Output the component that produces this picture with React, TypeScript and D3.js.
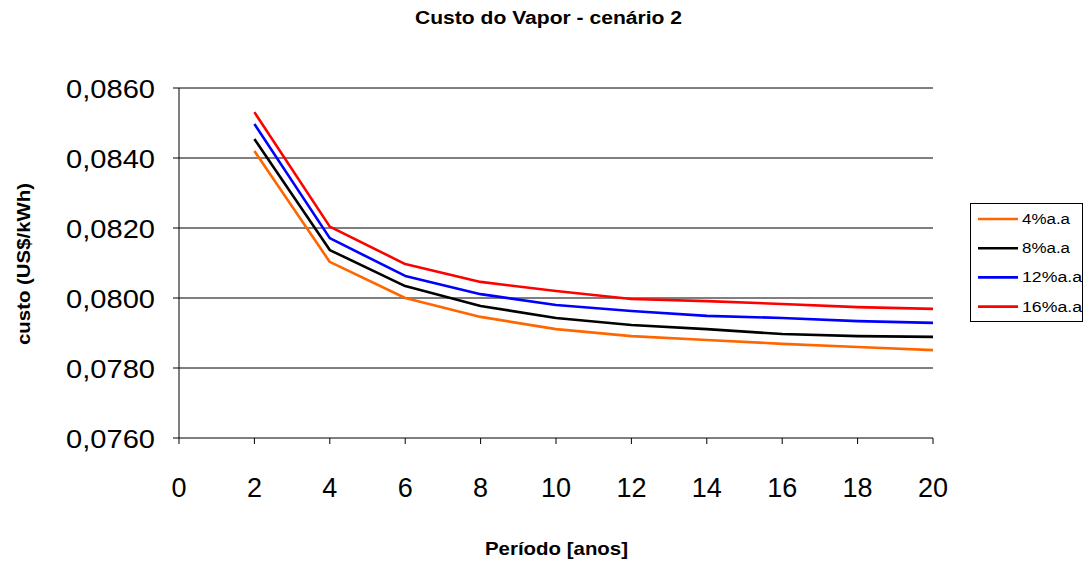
import React from "react";
import * as d3 from "d3";

const periods = [2, 4, 6, 8, 10, 12, 14, 16, 18, 20];
const s4 = [0.0842, 0.08103, 0.0800, 0.07946, 0.07911, 0.07891, 0.0788, 0.07869, 0.0786, 0.07851];
const s8 = [0.08454, 0.08137, 0.08034, 0.07977, 0.07943, 0.07923, 0.07911, 0.07897, 0.07891, 0.07889];
const s12 = [0.08497, 0.08171, 0.08063, 0.08011, 0.0798, 0.07963, 0.07949, 0.07943, 0.07934, 0.07929];
const s16 = [0.08531, 0.08204, 0.08097, 0.08046, 0.0802, 0.07997, 0.07991, 0.07983, 0.07974, 0.07969];
const seriesNames = ["4%a.a", "8%a.a", "12%a.a", "16%a.a"];
const seriesColors = ["#FF6600", "#000000", "#0000FF", "#FF0000"];
const xTicks = [0, 2, 4, 6, 8, 10, 12, 14, 16, 18, 20];
const yTicks = [0.076, 0.078, 0.08, 0.082, 0.084, 0.086];

export default function App() {
  const W = 1089, H = 562;
  const left = 179, right = 933, top = 88, bottom = 438;
  const x = d3.scaleLinear().domain([0, 20]).range([left, right]);
  const y = d3.scaleLinear().domain([0.076, 0.086]).range([bottom, top]);
  const all = [s4, s8, s12, s16];
  const line = d3.line<number>().x((_, i) => x(periods[i])).y((d) => y(d));
  const fmt = (v: number) => v.toFixed(4).replace(".", ",");
  const font = "Liberation Sans, Arial, sans-serif";
  const legStep = 29.2;
  return (
    <svg width={W} height={H} style={{ position: "absolute", left: 0, top: 0, background: "#fff" }} fontFamily={font}>
      <text x={548.5} y={24} textAnchor="middle" fontSize={18} fontWeight="bold" textLength={267} lengthAdjust="spacingAndGlyphs">Custo do Vapor - cenário 2</text>
      {yTicks.map((t) => (
        <g key={t}>
          {t > 0.076 && <line x1={left} x2={right} y1={y(t)} y2={y(t)} stroke="#000" strokeWidth={1} />}
          <line x1={left - 6} x2={left} y1={y(t)} y2={y(t)} stroke="#000" />
          <text x={155} y={y(t) + 10} textAnchor="end" fontSize={26} textLength={89} lengthAdjust="spacingAndGlyphs">{fmt(t)}</text>
        </g>
      ))}
      <line x1={left} x2={left} y1={top} y2={bottom} stroke="#000" />
      <line x1={left} x2={right} y1={bottom} y2={bottom} stroke="#000" />
      {xTicks.map((t) => (
        <g key={t}>
          <line x1={x(t)} x2={x(t)} y1={bottom} y2={bottom + 6} stroke="#000" />
          <text x={x(t)} y={497} textAnchor="middle" fontSize={27}>{t}</text>
        </g>
      ))}
      {all.map((s, i) => (
        <path key={i} d={line(s) || ""} fill="none" stroke={seriesColors[i]} strokeWidth={2.6} strokeLinejoin="round" />
      ))}
      <text x={556.5} y={555} textAnchor="middle" fontSize={19} fontWeight="bold" textLength={143} lengthAdjust="spacingAndGlyphs">Período [anos]</text>
      <text transform="translate(30,264) rotate(-90)" textAnchor="middle" fontSize={19} fontWeight="bold" textLength={162} lengthAdjust="spacingAndGlyphs">custo (US$/kWh)</text>
      <rect x={970.5} y={203.5} width={112} height={118} fill="#fff" stroke="#000" />
      {seriesNames.map((n, i) => (
        <g key={n}>
          <line x1={978} x2={1018} y1={219 + i * legStep} y2={219 + i * legStep} stroke={seriesColors[i]} strokeWidth={2.6} />
          <text x={1022} y={224 + i * legStep} fontSize={14} textLength={n.length > 5 ? 60 : 48} lengthAdjust="spacingAndGlyphs">{n}</text>
        </g>
      ))}
    </svg>
  );
}
